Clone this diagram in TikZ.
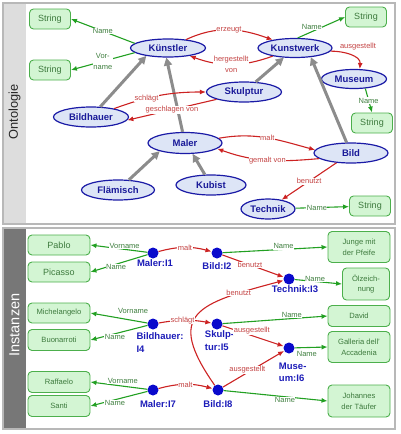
\documentclass[tikz,border=0pt]{standalone}
\usepackage{fontspec}
\setmainfont{Liberation Sans}
\usetikzlibrary{arrows.meta,shapes.geometric}

\definecolor{clsblue}{HTML}{1A1AA6}
\definecolor{clsfill}{HTML}{DDE5F6}
\definecolor{clstext}{HTML}{1A1A99}
\definecolor{litgreen}{HTML}{4CAF4C}
\definecolor{litfill}{HTML}{D3F5D3}
\definecolor{littext}{HTML}{3D7A3D}
\definecolor{datgreen}{HTML}{22A022}
\definecolor{dattext}{HTML}{3F7F3F}
\definecolor{objred}{HTML}{CC2222}
\definecolor{objtext}{HTML}{C44444}
\definecolor{subgray}{HTML}{8C8C8C}
\definecolor{dotblue}{HTML}{0A0ACC}
\definecolor{insttext}{HTML}{1C1CB8}
\definecolor{barlight}{HTML}{DDDDDD}
\definecolor{bardark}{HTML}{777777}
\definecolor{framegray}{HTML}{B8B8B8}

\begin{document}
\begin{tikzpicture}[x=1pt,y=1pt,
  every node/.style={font=\fontsize{7.5}{11}\selectfont},
  cls/.style={ellipse,draw=clsblue,fill=clsfill,line width=1.2pt,minimum width=74pt,minimum height=19pt,inner sep=0pt,text=clstext,font=\fontsize{9.5}{11}\selectfont\bfseries},
  lit/.style={rectangle,rounded corners=4pt,draw=litgreen,fill=litfill,line width=0.9pt,minimum width=41pt,minimum height=20pt,inner sep=1pt,align=center,text=littext,font=\fontsize{9}{11}\selectfont},
  val/.style={lit,minimum width=62pt,font=\fontsize{7.6}{10.7}\selectfont},
  inst/.style={circle,fill=dotblue,minimum size=11pt,inner sep=0pt},
  ilbl/.style={text=insttext,align=left,inner sep=1pt,font=\fontsize{9.5}{12.5}\selectfont\bfseries},
  sub/.style={draw=subgray,line width=3pt,-{Triangle[length=8pt,width=8pt]}},
  obj/.style={draw=objred,line width=1.1pt,-{Latex[length=6pt,width=5pt]}},
  dat/.style={draw=datgreen,line width=1.1pt,-{Latex[length=6pt,width=5pt]}},
  olbl/.style={text=objtext,fill=white,inner sep=0.5pt,align=center},
  dlbl/.style={text=dattext,fill=white,inner sep=0.5pt,align=center},
  panel/.style={draw=framegray,line width=1.5pt}]
\useasboundingbox (0,0) rectangle (400,-434);

% panels
\fill[barlight] (3,-3) rectangle (26,-225);
\fill[bardark] (3,-228) rectangle (26,-429);
\draw[panel] (3,-3) rectangle (395,-224);
\draw[panel] (3,-228) rectangle (395,-429);
\node[rotate=90,font=\fontsize{12.8}{15}\selectfont,text=black!85] (ontlbl) at (14.5,-112) {Ontologie};
\node[rotate=90,font=\fontsize{14.5}{17}\selectfont,text=white] (instlbl) at (14.5,-325) {Instanzen};

% ontology
\node[cls,minimum width=75pt,minimum height=18pt] (kuenstler) at (168,-48) {Künstler};
\node[cls] (kunstwerk) at (295,-48) {Kunstwerk};
\node[cls,minimum width=65pt] (museum) at (354,-79) {Museum};
\node[cls,minimum width=75pt,minimum height=20pt] (skulptur) at (244,-92) {Skulptur};
\node[cls,minimum width=75pt,minimum height=20pt] (bildhauer) at (91,-117) {Bildhauer};
\node[cls,minimum height=21pt] (maler) at (185,-143) {Maler};
\node[cls,minimum width=73pt,minimum height=20pt] (flaemisch) at (118,-190) {Flämisch};
\node[cls,minimum width=70pt,minimum height=20pt] (kubist) at (211,-185) {Kubist};
\node[cls,minimum height=20pt] (bild) at (351,-153) {Bild};
\node[cls,minimum width=54pt,minimum height=20pt] (technik) at (268,-209) {Technik};

\node[lit] (str1) at (50,-19) {String};
\node[lit] (str2) at (50,-70) {String};
\node[lit] (str3) at (366,-17) {String};
\node[lit] (str4) at (372,-123) {String};
\node[lit] (str5) at (370,-206) {String};

\draw[sub] (bildhauer) -- (kuenstler.-160);
\draw[sub] (maler) -- (kuenstler.-100);
\draw[sub] (skulptur) -- (kunstwerk);
\draw[sub] (bild) -- (kunstwerk.-30);
\draw[sub] (flaemisch) -- (maler.-162);
\draw[sub] (kubist) -- (maler.-55);

\draw[obj] (kuenstler) to[out=25,in=160] node[olbl]{erzeugt} (kunstwerk);
\draw[obj] (kunstwerk) to[out=200,in=-20] node[olbl]{hergestellt\\von} (kuenstler);
\draw[obj] (kunstwerk.-5) to[out=0,in=85] node[olbl,pos=0.2,anchor=south west,yshift=1pt]{ausgestellt} (museum.60);
\draw[obj] (bildhauer) to[out=20,in=180] node[olbl,pos=0.35]{schlägt} (skulptur);
\draw[obj] (skulptur.-165) -- node[olbl]{geschlagen von} (bildhauer.-5);
\draw[obj] (maler.8) to[out=10,in=165] node[olbl]{malt} (bild.175);
\draw[obj] (bild.190) to[out=185,in=-20] node[olbl]{gemalt von} (maler.-10);
\draw[obj] (bild) -- node[olbl]{benutzt} (technik);

\draw[dat] (kuenstler.172) -- node[dlbl]{Name} (str1.east);
\draw[dat] (kuenstler.-172) -- node[dlbl]{Vor-\\name} (str2.east);
\draw[dat] (kunstwerk.75) -- node[dlbl,pos=0.3,above=1pt]{Name} (str3.west);
\draw[dat] (museum.-40) -- node[dlbl]{Name} (str4.north);
\draw[dat] (technik) -- node[dlbl,pos=0.4]{Name} (str5);

% instances
\node[inst,label={[ilbl,xshift=2pt]below:{Maler:I1}}] (i1) at (153,-253) {};
\node[inst,label={[ilbl,yshift=-3pt]below:{Bild:I2}}] (i2) at (217,-253) {};
\node[inst,label={[ilbl,xshift=6pt]below:{Technik:I3}}] (i3) at (289,-279) {};
\node[inst,label={[ilbl,xshift=7pt,yshift=-2pt]below:{Bildhauer:\\I4}}] (i4) at (153,-324) {};
\node[inst,label={[ilbl,xshift=2.5pt]below:{Skulp-\\tur:I5}}] (i5) at (217,-324) {};
\node[inst,label={[ilbl,xshift=3.7pt,yshift=-8pt]below:{Muse-\\um:I6}}] (i6) at (289,-348) {};
\node[inst,label={[ilbl,xshift=5pt,yshift=-4pt]below:{Maler:I7}}] (i7) at (153,-390) {};
\node[inst,label={[ilbl,yshift=-4pt]below:{Bild:I8}}] (i8) at (218,-390) {};

\node[val,font=\fontsize{9}{11}\selectfont] (pablo) at (59,-245) {Pablo};
\node[val,font=\fontsize{9}{11}\selectfont] (picasso) at (59,-272) {Picasso};
\node[val] (michelangelo) at (59,-313) {Michelangelo};
\node[val,minimum height=21pt] (buonarroti) at (59,-340) {Buonarroti};
\node[val,minimum height=21pt] (raffaelo) at (59,-382) {Raffaelo};
\node[val,minimum height=21pt] (santi) at (59,-406) {Santi};
\node[val,minimum height=31pt] (junge) at (359,-247) {Junge mit\\der Pfeife};
\node[val,minimum width=47pt,minimum height=32pt] (oelz) at (366,-284) {Ölzeich-\\nung};
\node[val,minimum height=21pt] (david) at (359,-316) {David};
\node[val,minimum height=31pt] (galleria) at (359,-347) {Galleria dell'\\Accadenia};
\node[val,minimum height=32pt] (johannes) at (359,-401) {Johannes\\der Täufer};

\draw[dat] (i1) -- node[dlbl,pos=0.4,yshift=3pt]{Vorname} (pablo.east);
\draw[dat] (i1) -- node[dlbl,pos=0.55,yshift=-3pt]{Name} (picasso.east);
\draw[obj] (i1) to[bend left=15] node[olbl]{malt} (i2);
\draw[dat] (i2) -- node[dlbl,pos=0.58,yshift=3pt]{Name} (junge.west);
\draw[obj] (i2) -- node[olbl,pos=0.45]{benutzt} (i3);
\draw[dat] (i3) -- node[dlbl,pos=0.43,yshift=3pt]{Name} (oelz.west);
\draw[obj] (i8) to[out=125,in=195,looseness=1.8] node[olbl,pos=0.8]{benutzt} (i3);

\draw[dat] (i4) -- node[dlbl,pos=0.25,yshift=10pt]{Vorname} (michelangelo.east);
\draw[dat] (i4) -- node[dlbl,pos=0.57,yshift=-3pt]{Name} (buonarroti.east);
\draw[obj] (i4) to[bend left=10] node[olbl,pos=0.45]{schlägt} (i5);
\draw[dat] (i5) -- node[dlbl,pos=0.66,yshift=3.5pt]{Name} (david.west);
\draw[obj] (i5) -- node[olbl,pos=0.48,yshift=5pt]{ausgestellt} (i6);
\draw[dat] (i6) -- node[dlbl,pos=0.37,yshift=-6pt]{Name} (galleria.west);

\draw[dat] (i7) -- node[dlbl,pos=0.43,yshift=5pt]{Vorname} (raffaelo.east);
\draw[dat] (i7) -- node[dlbl,pos=0.57,yshift=-3pt]{Name} (santi.east);
\draw[obj] (i7) to[bend left=15] node[olbl]{malt} (i8);
\draw[obj] (i8) -- node[olbl,pos=0.4,yshift=3pt]{ausgestellt} (i6);
\draw[dat] (i8) -- node[dlbl,pos=0.59,yshift=-3pt]{Name} (johannes.west);
\end{tikzpicture}
\end{document}
